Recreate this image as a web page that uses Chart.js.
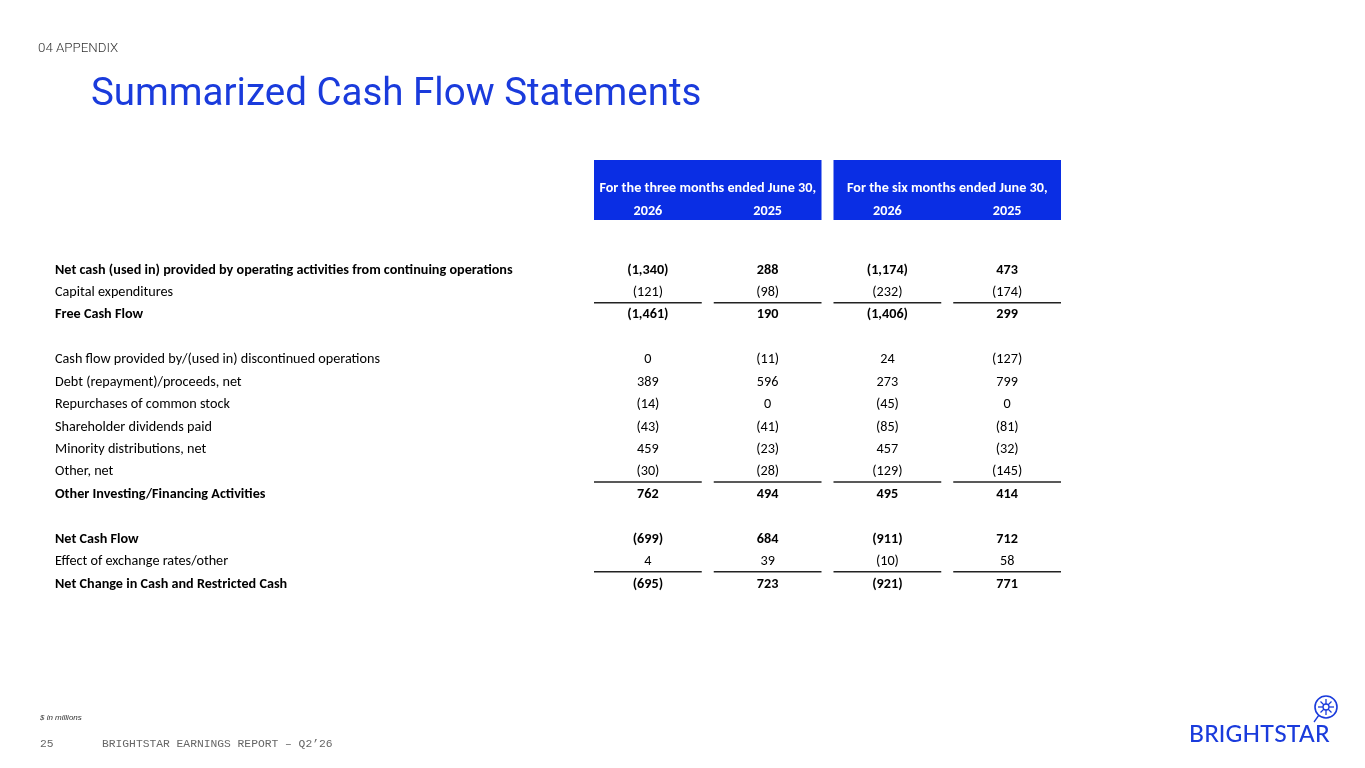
<!DOCTYPE html>
<html lang="en-US">
<head>
<meta charset="utf-8">
<title>Summarized Cash Flow Statements</title>
<script src="https://cdn.jsdelivr.net/npm/chart.js@4.4.1/dist/chart.umd.min.js"></script>
<style>
  html, body { margin: 0; padding: 0; background: #fff; overflow: hidden; }
  #page { position: relative; width: 1365px; height: 768px; }
  #chart-0 { position: absolute; left: 0; top: 0; }
  .section { position: absolute; left: 38px; top: 40px; font: 300 13.3px Roboto, sans-serif; color: #333; }
  .title { position: absolute; left: 91px; top: 69px; font: 400 38.5px Roboto, sans-serif; color: #1a3bdc; white-space: nowrap; }
  .note { position: absolute; left: 40px; top: 713px; font: italic 8px "Liberation Sans", Arial, sans-serif; color: #333; }
  .footer { position: absolute; top: 738px; font: 11.3px "Liberation Mono", "Courier New", monospace; color: #666; white-space: nowrap; }
  .logo { position: absolute; left: 1189px; top: 719px; font: 500 23px Lato, sans-serif; color: #1a3bdc; letter-spacing: 0.2px; }
  .mark { position: absolute; left: 1312px; top: 694px; }
</style>
</head>
<body>
<div id="page">
  <canvas id="chart-0" width="1365" height="768"></canvas>
  <div class="section">04 APPENDIX</div>
  <div class="title">Summarized Cash Flow Statements</div>
  <div class="note">$ in millions</div>
  <div class="footer" style="left:40px">25</div>
  <div class="footer" style="left:102px">BRIGHTSTAR EARNINGS REPORT &ndash; Q2&rsquo;26</div>
  <div class="logo">BRIGHTSTAR</div>
  <svg class="mark" width="28" height="34" viewBox="0 0 28 34">
    <circle cx="14" cy="13" r="11" fill="none" stroke="#1a3bdc" stroke-width="1.6"/>
    <g stroke="#1a3bdc" stroke-width="1.3">
      <line x1="14" y1="5" x2="14" y2="21"/>
      <line x1="6" y1="13" x2="22" y2="13"/>
      <line x1="8.5" y1="7.5" x2="19.5" y2="18.5"/>
      <line x1="19.5" y1="7.5" x2="8.5" y2="18.5"/>
      <line x1="7" y1="21" x2="2" y2="28"/>
    </g>
    <circle cx="14" cy="13" r="3" fill="#fff" stroke="#1a3bdc" stroke-width="1.3"/>
  </svg>
</div>

<script>
  // row labels (blank strings are spacer rows)
  var rowLabels = [
    'Net cash (used in) provided by operating activities from continuing operations',
    'Capital expenditures',
    'Free Cash Flow',
    '',
    'Cash flow provided by/(used in) discontinued operations',
    'Debt (repayment)/proceeds, net',
    'Repurchases of common stock',
    'Shareholder dividends paid',
    'Minority distributions, net',
    'Other, net',
    'Other Investing/Financing Activities',
    '',
    'Net Cash Flow',
    'Effect of exchange rates/other',
    'Net Change in Cash and Restricted Cash'
  ];
  var boldRows = [0, 2, 10, 12, 14];
  var ruleAfterRows = [1, 9, 13];

  var periodHeaders = ['For the three months ended June 30,', 'For the six months ended June 30,'];
  var yearLabels = ['2026', '2025', '2026', '2025'];
  var columns = ['3m 2026', '3m 2025', '6m 2026', '6m 2025'];

  var threeMonths2026 = [-1340, -121, -1461, null, 0, 389, -14, -43, 459, -30, 762, null, -699, 4, -695];
  var threeMonths2025 = [288, -98, 190, null, -11, 596, 0, -41, -23, -28, 494, null, 684, 39, 723];
  var sixMonths2026 = [-1174, -232, -1406, null, 24, 273, -45, -85, 457, -129, 495, null, -911, -10, -921];
  var sixMonths2025 = [473, -174, 299, null, -127, 799, 0, -81, -32, -145, 414, null, 712, 58, 771];

  var series = [threeMonths2026, threeMonths2025, sixMonths2026, sixMonths2025];

  var BLUE = '#0a2ee4';
  var FONT = "Carlito, Calibri, 'Liberation Sans', sans-serif";
  var fontSize = 14.2;
  var dy = 1; // nudge text down a little from the middle baseline

  function fmt(v) {
    var s = Math.abs(v).toLocaleString('en-US');
    return v < 0 ? '(' + s + ')' : s;
  }

  var datasets = series.map(function (vals, ci) {
    var pts = [];
    vals.forEach(function (v, ri) {
      if (v !== null) pts.push({ x: columns[ci], y: ri, v: v });
    });
    return {
      label: columns[ci],
      data: pts,
      showLine: false,
      pointRadius: 0,
      pointHoverRadius: 0
    };
  });

  var tablePlugin = {
    id: 'tablePlugin',
    afterDatasetsDraw: function (chart) {
      var ctx = chart.ctx;
      var xs = chart.scales.x, ys = chart.scales.y;
      var band = (chart.chartArea.right - chart.chartArea.left) / columns.length;
      var inset = 6;
      var top = ys.getPixelForValue(0);
      var step = ys.getPixelForValue(1) - top;

      ctx.save();
      ctx.textBaseline = 'middle';

      // header boxes
      for (var g = 0; g < 2; g++) {
        var l = xs.getPixelForValue(g * 2) - band / 2 + inset;
        var r = xs.getPixelForValue(g * 2 + 1) + band / 2 - inset;
        ctx.fillStyle = BLUE;
        ctx.fillRect(l, top - 109, r - l, 60);
        ctx.fillStyle = '#fff';
        ctx.font = 'bold ' + fontSize + 'px ' + FONT;
        ctx.textAlign = 'center';
        ctx.fillText(periodHeaders[g], (l + r) / 2, top - 82 + dy);
      }
      columns.forEach(function (c, ci) {
        ctx.fillText(yearLabels[ci], xs.getPixelForValue(ci), top - 59 + dy);
      });

      // row labels
      ctx.fillStyle = '#000';
      ctx.textAlign = 'left';
      rowLabels.forEach(function (lab, ri) {
        if (!lab) return;
        ctx.font = (boldRows.indexOf(ri) >= 0 ? 'bold ' : '') + fontSize + 'px ' + FONT;
        ctx.fillText(lab, 55, ys.getPixelForValue(ri) + dy);
      });

      // values, placed at the points the scales computed
      ctx.textAlign = 'center';
      chart.data.datasets.forEach(function (ds, di) {
        var meta = chart.getDatasetMeta(di);
        meta.data.forEach(function (pt, i) {
          var d = ds.data[i];
          ctx.font = (boldRows.indexOf(d.y) >= 0 ? 'bold ' : '') + fontSize + 'px ' + FONT;
          ctx.fillStyle = '#000';
          ctx.fillText(fmt(d.v), pt.x, pt.y + dy);
        });
      });

      // subtotal rules
      ctx.strokeStyle = '#222';
      ctx.lineWidth = 1.5;
      ruleAfterRows.forEach(function (ri) {
        var y = ys.getPixelForValue(ri) + step / 2;
        columns.forEach(function (c, ci) {
          var cx = xs.getPixelForValue(ci);
          ctx.beginPath();
          ctx.moveTo(cx - band / 2 + inset, y);
          ctx.lineTo(cx + band / 2 - inset, y);
          ctx.stroke();
        });
      });
      ctx.restore();
    }
  };

  new Chart('chart-0', {
    type: 'line',
    data: { labels: columns, datasets: datasets },
    options: {
      responsive: false,
      animation: false,
      events: [],
      layout: { padding: { left: 588, right: 298, top: 269, bottom: 185 } },
      plugins: { legend: { display: false }, tooltip: { enabled: false } },
      scales: {
        x: { type: 'category', offset: true, display: false },
        y: { type: 'linear', min: 0, max: rowLabels.length - 1, reverse: true, display: false }
      }
    },
    plugins: [tablePlugin]
  });
</script>
</body>
</html>
